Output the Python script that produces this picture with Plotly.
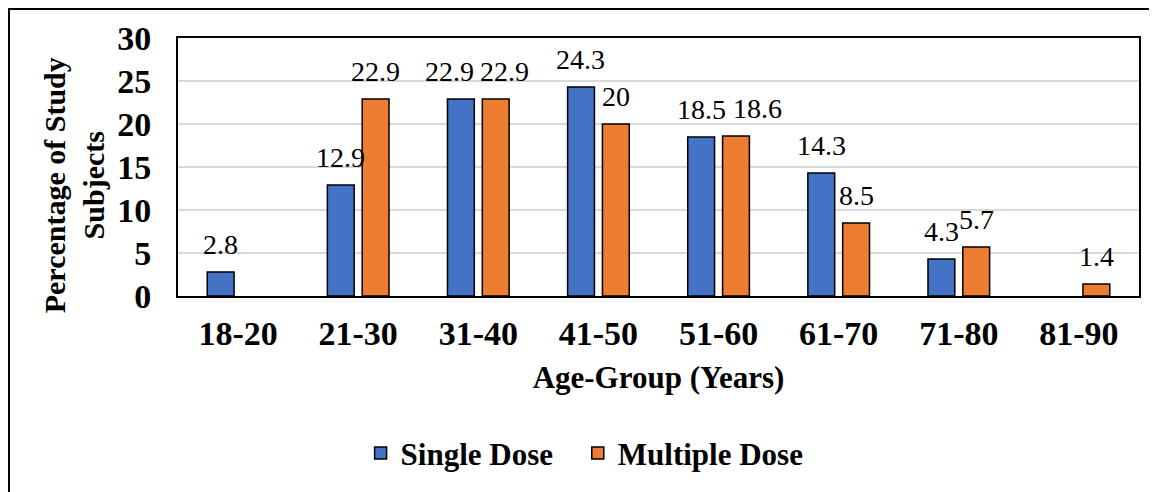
import plotly.graph_objects as go

# data
age_groups = ["18-20", "21-30", "31-40", "41-50", "51-60", "61-70", "71-80", "81-90"]
single_dose = [2.8, 12.9, 22.9, 24.3, 18.5, 14.3, 4.3, None]
multiple_dose = [None, 22.9, 22.9, 20, 18.6, 8.5, 5.7, 1.4]
y_ticks = [0, 5, 10, 15, 20, 25, 30]

blue = "#4472C4"
orange = "#ED7D31"
serif = "Liberation Serif"

# excel pushed a few labels sideways so they don't collide
label_nudge = {("31-40", 0): -11, ("31-40", 1): 9, ("51-60", 1): 21}

fig = go.Figure()
fig.add_trace(go.Bar(x=age_groups, y=single_dose, name="Single Dose", legend="legend",
                     marker=dict(color=blue, line=dict(color="black", width=1.5))))
fig.add_trace(go.Bar(x=age_groups, y=multiple_dose, name="Multiple Dose", legend="legend2",
                     marker=dict(color=orange, line=dict(color="black", width=1.5))))

## value labels sit a bit above each bar
for i, (vals, shift) in enumerate([(single_dose, -17.5), (multiple_dose, 17.5)]):
    for cat, v in zip(age_groups, vals):
        if v is None:
            continue
        fig.add_annotation(x=cat, y=v, text=str(v), showarrow=False,
                           xshift=shift + label_nudge.get((cat, i), 0),
                           yshift=10, yanchor="bottom",
                           font=dict(family=serif, size=28, color="black"))

## y axis title as annotation so it can sit where it does in the original
fig.add_annotation(text="<b>Percentage of Study<br>Subjects</b>", textangle=-90,
                   xref="paper", yref="paper", x=-0.108, y=0.43,
                   xanchor="center", yanchor="middle",
                   showarrow=False, font=dict(family=serif, size=30, color="black"))

## outer frame, cut off on the right and bottom
fig.add_shape(type="rect", xref="paper", yref="paper",
              x0=-0.1759, x1=1.03, y0=-0.78, y1=1.112,
              line=dict(color="black", width=2))

legend_font = dict(family=serif, size=31, color="black", weight="bold")
fig.update_layout(
    width=1149, height=484,
    margin=dict(l=170, r=18, t=30, b=196),
    plot_bgcolor="white", paper_bgcolor="white",
    barmode="group", bargap=0.42, bargroupgap=0.23,
    font=dict(family=serif, color="black"),
    showlegend=True,
    legend=dict(orientation="h", x=0.19, xanchor="left", y=-0.61, yanchor="middle",
                font=legend_font, itemwidth=30),
    legend2=dict(orientation="h", x=0.416, xanchor="left", y=-0.61, yanchor="middle",
                 font=legend_font, itemwidth=30),
)
fig.update_xaxes(showline=True, linewidth=2, linecolor="black", mirror=True,
                 tickfont=dict(family=serif, size=34, weight="bold"),
                 ticklabelstandoff=6,
                 title=dict(text="<b>Age-Group (Years)</b>", standoff=16,
                            font=dict(family=serif, size=31)))
fig.update_yaxes(range=[0, 30], tickvals=y_ticks, showline=True, linewidth=2,
                 linecolor="black", mirror=True, showgrid=True,
                 gridcolor="#D9D9D9", gridwidth=1.5, zeroline=False,
                 tickfont=dict(family=serif, size=34, weight="bold"),
                 ticklabelstandoff=18)

fig.write_html("out.html")
